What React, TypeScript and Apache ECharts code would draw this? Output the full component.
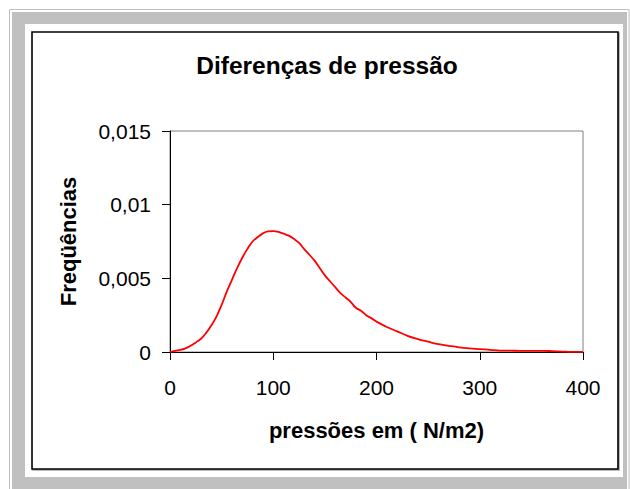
import React, { useEffect, useRef } from "react";
import * as echarts from "echarts";

const pressures = [0, 5, 10, 15, 20, 25, 30, 35, 40, 45, 50, 55, 60, 65, 70, 75, 80, 85, 90, 95, 100, 105, 110, 115, 120, 125, 130, 135, 140, 145, 150, 155, 160, 165, 170, 175, 180, 185, 190, 195, 200, 210, 220, 230, 240, 250, 260, 270, 280, 290, 300, 310, 320, 330, 340, 350, 360, 370, 380, 390, 400];
const frequencies = [0, 0.00008, 0.00014, 0.00025, 0.00042, 0.00065, 0.0009, 0.0013, 0.0018, 0.0024, 0.0032, 0.0041, 0.0049, 0.0057, 0.0064, 0.007, 0.0075, 0.0078, 0.00805, 0.00818, 0.0082, 0.00815, 0.00803, 0.0079, 0.00768, 0.0074, 0.00698, 0.0066, 0.0062, 0.0057, 0.0052, 0.0048, 0.0044, 0.004, 0.0037, 0.0034, 0.003, 0.0028, 0.0025, 0.0023, 0.00206, 0.0017, 0.0014, 0.0011, 0.00088, 0.0007, 0.00053, 0.00042, 0.00032, 0.00025, 0.0002, 0.00015, 0.0001, 0.00009, 0.00008, 0.00008, 0.00008, 0.00006, 0.00003, 0.00001, 0.00001];
const yTickLabels = ["0", "0,005", "0,01", "0,015"];
const xTickLabels = ["0", "100", "200", "300", "400"];
const titleText = "Diferenças de pressão";
const xName = "pressões em ( N/m2)";
const yName = "Freqüências";

const FONT = "'Liberation Sans', Arial, Helvetica, sans-serif";

export default function App() {
  const ref = useRef<HTMLDivElement>(null);
  useEffect(() => {
    if (!ref.current) return;
    const chart = echarts.init(ref.current, null, { renderer: "svg" });
    chart.setOption({
      animation: false,
      backgroundColor: "#ffffff",
      graphic: [
        { type: "rect", z: -10, silent: true, shape: { x: 9.5, y: 9.5, width: 619.5, height: 500 }, style: { fill: "none", stroke: "#c0c0c0", lineWidth: 1 } },
        { type: "rect", z: -9, silent: true, shape: { x: 12, y: 12, width: 615, height: 490 }, style: { fill: "#c0c0c0" } },
        { type: "rect", z: -8, silent: true, shape: { x: 25, y: 24, width: 598, height: 453 }, style: { fill: "#ffffff" } },
        { type: "rect", z: -7, silent: true, shape: { x: 32, y: 32, width: 586, height: 437 }, style: { fill: "#ffffff", stroke: "#000000", lineWidth: 1.6, shadowColor: "rgba(0,0,0,0.35)", shadowOffsetX: 1, shadowOffsetY: 1, shadowBlur: 0 } },
        { type: "text", silent: true, x: 327, y: 65, style: { text: titleText, font: `bold 24.5px ${FONT}`, fill: "#000", align: "center", verticalAlign: "middle" } },
      ],
      grid: { left: 170, top: 131, width: 413, height: 221, show: true, borderColor: "#808080", borderWidth: 1, backgroundColor: "transparent" },
      xAxis: {
        type: "value",
        min: 0,
        max: 400,
        interval: 100,
        name: xName,
        nameLocation: "middle",
        nameGap: 67,
        nameTextStyle: { fontFamily: FONT, fontWeight: "bold", fontSize: 22, color: "#000" },
        axisLine: { show: true, lineStyle: { color: "#000", width: 1 } },
        axisTick: { show: true, inside: false, length: 8, lineStyle: { color: "#000", width: 1 } },
        axisLabel: {
          fontFamily: FONT,
          fontSize: 21,
          color: "#000",
          margin: 25,
          formatter: (v: number) => xTickLabels[Math.round(v / 100)] ?? "",
        },
        splitLine: { show: false },
      },
      yAxis: {
        type: "value",
        min: 0,
        max: 0.015,
        interval: 0.005,
        name: yName,
        nameLocation: "middle",
        nameRotate: 90,
        nameGap: 91,
        nameTextStyle: { fontFamily: FONT, fontWeight: "bold", fontSize: 22, color: "#000" },
        axisLine: { show: true, lineStyle: { color: "#000", width: 1 } },
        axisTick: { show: true, inside: false, length: 8, lineStyle: { color: "#000", width: 1 } },
        axisLabel: {
          fontFamily: FONT,
          fontSize: 21,
          color: "#000",
          margin: 19,
          formatter: (v: number) => yTickLabels[Math.round(v / 0.005)] ?? "",
        },
        splitLine: { show: false },
      },
      series: [
        {
          type: "line",
          data: pressures.map((p, i) => [p, frequencies[i]]),
          showSymbol: false,
          smooth: 0.4,
          lineStyle: { color: "#ff0000", width: 1.8 },
          clip: false,
        },
      ],
    });
    return () => chart.dispose();
  }, []);
  return (
    <div
      ref={ref}
      style={{ position: "absolute", left: 0, top: 0, width: 630, height: 489 }}
    />
  );
}
